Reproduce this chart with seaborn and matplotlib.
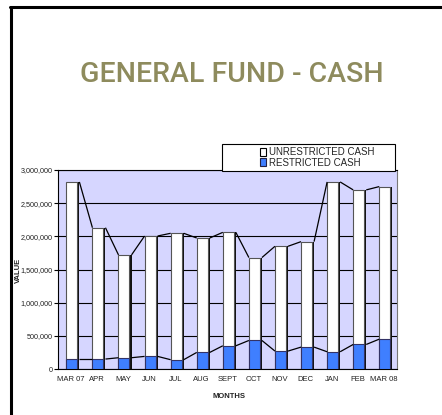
import numpy as np
import pandas as pd
import matplotlib
matplotlib.use("Agg")
import matplotlib.pyplot as plt
import seaborn as sns
from matplotlib.patches import Rectangle
from matplotlib.lines import Line2D

months = ["MAR 07", "APR", "MAY", "JUN", "JUL", "AUG", "SEPT", "OCT", "NOV", "DEC", "JAN", "FEB", "MAR 08"]
restricted = [150000, 150000, 170000, 190000, 140000, 250000, 350000, 430000, 270000, 330000, 260000, 370000, 450000]
unrestricted = [2670000, 1980000, 1550000, 1815000, 1906000, 1725000, 1710000, 1250000, 1580000, 1590000, 2560000, 2330000, 2300000]
yticks = [0, 500000, 1000000, 1500000, 2000000, 2500000, 3000000]

total = [r + u for r, u in zip(restricted, unrestricted)]
df = pd.DataFrame({"month": months, "restricted": restricted, "total": total})

sns.set_theme(style="white")
plt.rcParams['font.family'] = ['Liberation Sans', 'DejaVu Sans']

fig = plt.figure(figsize=(4.42, 4.15), dpi=100)
ax = fig.add_axes([58/442, 1-369/415, 339/442, 199/415])
ax.set_facecolor("#D6D6FF")

W = 0.42
OFF = 0.03
SH = 0.10
x = np.arange(len(months))

# gridlines
for v in yticks:
    ax.axhline(v, color="black", lw=0.8, zorder=0.5)

# shadows
ax.bar(x + OFF + W/2 + SH/2 - 0.02, total, width=SH, color="#111111", edgecolor="none", zorder=2)
# total (unrestricted stacked on restricted)
sns.barplot(data=df, x="month", y="total", color="white", width=W, edgecolor="#555555",
            linewidth=0.8, saturation=1, ax=ax, zorder=3)
sns.barplot(data=df, x="month", y="restricted", color="#3F7FFF", width=W, edgecolor="#333366",
            linewidth=0.8, saturation=1, ax=ax, zorder=4)
for c in ax.containers[1:]:
    for p in c:
        p.set_x(p.get_x() + OFF)

# series lines
for series in (total, restricted):
    for i in range(len(series) - 1):
        ax.plot([i + OFF + W/2 + SH - 0.02, i + 1 + OFF - W/2], [series[i], series[i+1]],
                color="black", lw=0.9, zorder=5, solid_capstyle="butt")

ax.set_xlim(-0.5, len(months) - 0.5)
ax.set_ylim(0, 3000000)
ax.set_yticks(yticks)
ax.set_yticklabels([f"{v:,}" for v in yticks], fontsize=5.2, color="#222222")
ax.set_xticks(x)
ax.set_xticklabels(months, fontsize=5.5, color="#222222")
ax.set_xticks(np.arange(len(months)) + 0.5, minor=True)
ax.tick_params(axis="x", which="major", length=0, pad=5)
ax.tick_params(axis="x", which="minor", length=3, width=0.8, color="black", direction="out")
ax.tick_params(axis="y", length=3, width=0.8, color="black", direction="out", pad=1, left=True)
ax.set_xlabel("")
ax.set_ylabel("")
for s in ax.spines.values():
    s.set_color("black")
    s.set_linewidth(0.8)
ax.spines["right"].set_color("#777777")

fig.text(18/442, 1-270/415, "VALUE", rotation=90, fontsize=5.5, fontweight="bold",
         ha="center", va="center", color="#222222")
fig.text(229/442, 1-396/415, "MONTHS", fontsize=5.5, fontweight="bold",
         ha="center", va="center", color="#222222")

fig.text(232/442, 1-75/415, "GENERAL FUND - CASH", fontsize=20.5, fontweight="medium",
         family=["Roboto", "DejaVu Sans"],
         color="#8E8B5D", ha="center", va="center")

# legend box
fig.patches.append(Rectangle((222/442, 1-171/415), 173/442, 27/415, transform=fig.transFigure,
                             facecolor="white", edgecolor="black", lw=0.8, zorder=10))
handles = [Rectangle((0, 0), 1, 1, facecolor="white", edgecolor="black", lw=0.8),
           Rectangle((0, 0), 1, 1, facecolor="#3F7FFF", edgecolor="#222244", lw=0.8)]
leg = fig.legend(handles, ["UNRESTRICTED CASH", "RESTRICTED CASH"], loc="center left",
                 bbox_to_anchor=(255/442, 1-157.5/415), frameon=False, fontsize=7,
                 handlelength=0.6, handleheight=0.9, handletextpad=0.3, labelspacing=0.05,
                 borderpad=0)
leg.set_zorder(11)

# frame lines
fig.add_artist(Line2D([10/442, 1], [1-7.5/415, 1-7.5/415], transform=fig.transFigure, color="black", lw=2.2))
fig.add_artist(Line2D([11/442, 11/442], [0, 1-7.5/415], transform=fig.transFigure, color="black", lw=2.2))

fig.savefig("out.png", dpi=100)
